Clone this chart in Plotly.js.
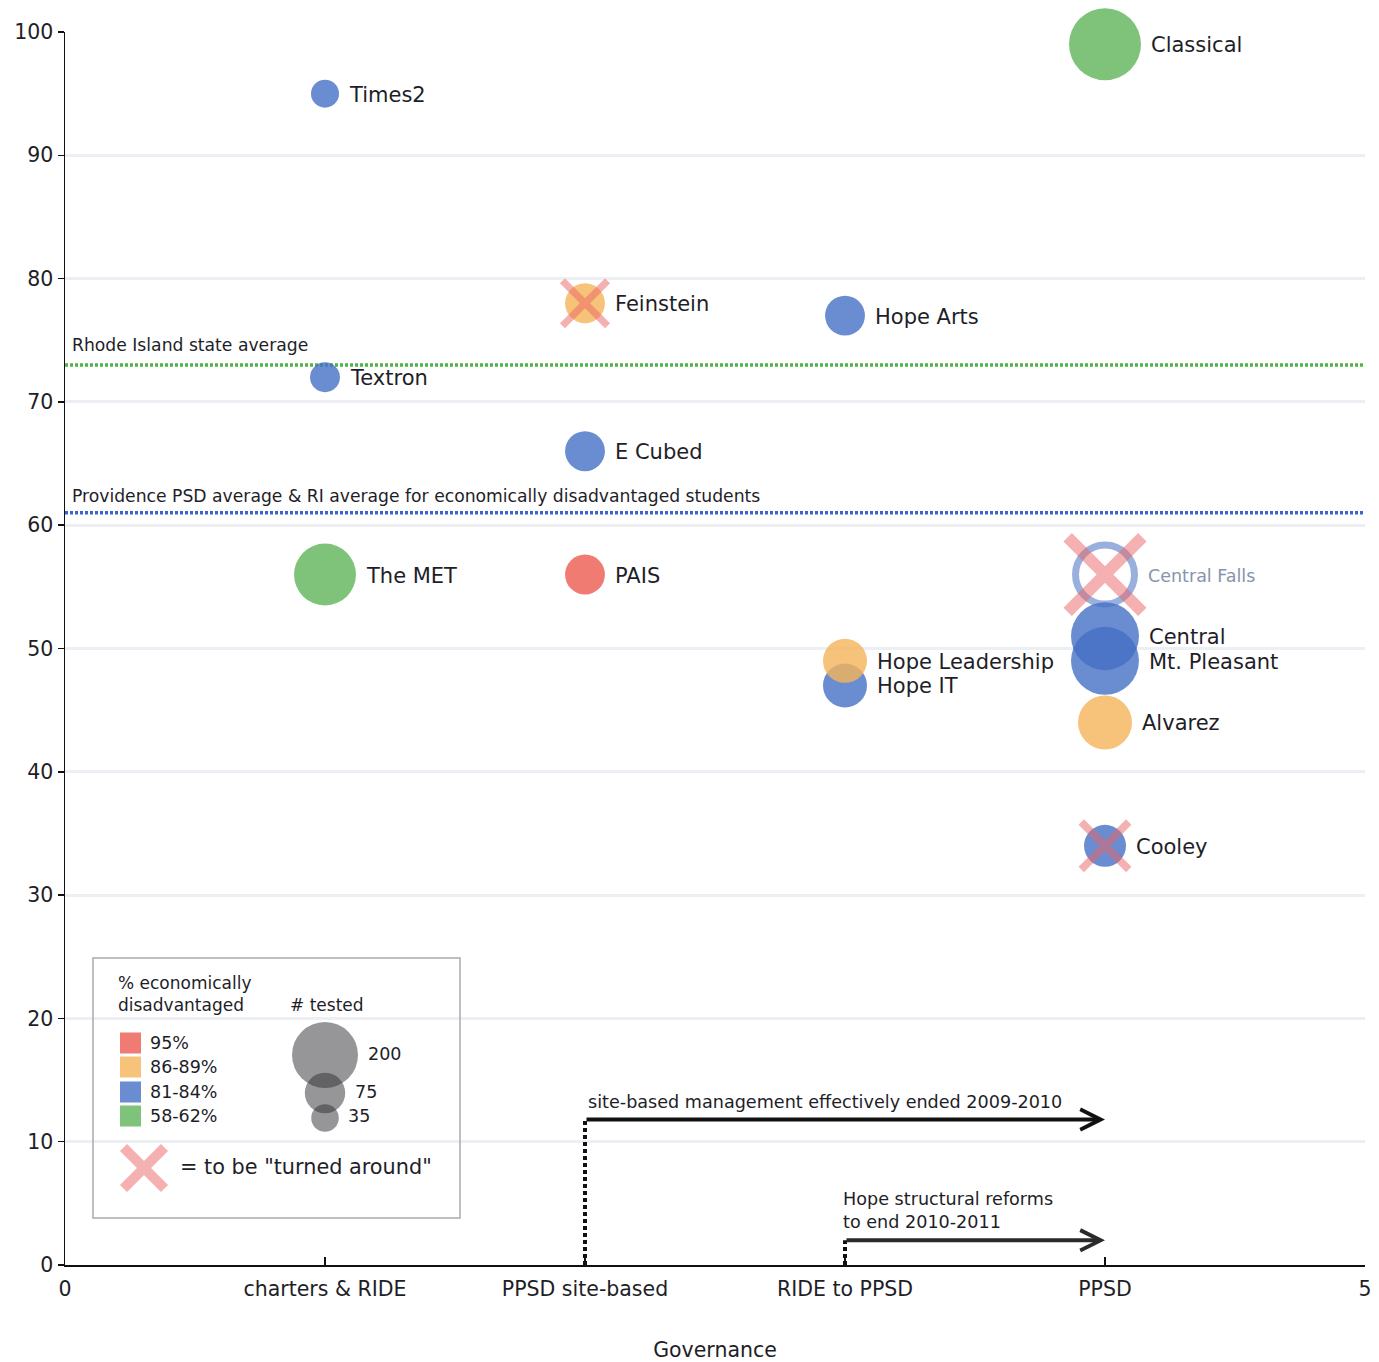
<!DOCTYPE html>
<html><head><meta charset="utf-8">
<script src="https://cdn.plot.ly/plotly-3.0.1.min.js"></script>
<style>html,body{margin:0;padding:0;background:#fff;} #chart{width:1379px;height:1362px;}</style>
</head><body><div id="chart"></div>
<script>
// ---------------- DATA ----------------
const schools = ["Times2","Textron","The MET","Feinstein","E Cubed","PAIS","Hope Arts","Hope IT","Hope Leadership","Classical","Central Falls","Central","Mt. Pleasant","Alvarez","Cooley"];
const governance = [1,1,1,2,2,2,3,3,3,4,4,4,4,4,4];
const proficiency = [95,72,56,78,66,56,77,47,49,99,56,51,49,44,34];
const disadvantaged = ["81-84%","81-84%","58-62%","86-89%","81-84%","95%","81-84%","81-84%","86-89%","58-62%","81-84%","81-84%","81-84%","86-89%","81-84%"];
const tested = [36,41,176,73,73,73,73,89,89,238,200,212,212,134,81];
const turnedAround = [false,false,false,true,false,false,false,false,false,false,true,false,false,false,true];
const outsidePPSD = [false,false,false,false,false,false,false,false,false,false,true,false,false,false,false];

const governanceTicks = [0,1,2,3,4,5];
const governanceLabels = ["0","charters & RIDE","PPSD site-based","RIDE to PPSD","PPSD","5"];

const refLineNames = ["Rhode Island state average","Providence PSD average & RI average for economically disadvantaged students"];
const refLineValues = [73, 61];

const reformNotes = ["site-based management effectively ended 2009-2010","Hope structural reforms<br>to end 2010-2011"];
const reformStart = [2, 3];
const reformEnd = [4, 4];
const reformLevel = [11.8, 2];

const categoryNames = ["95%","86-89%","81-84%","58-62%"];
const legendSizes = [200, 75, 35];

// ---------------- STYLE ----------------
const FONT = "DejaVu Sans, Lucida Grande, sans-serif";
const TXT = "#1e1e28";
const catColor = {"95%":"rgba(235,90,80,0.8)","86-89%":"rgba(245,180,90,0.8)","81-84%":"rgba(69,111,196,0.8)","58-62%":"rgba(95,180,90,0.8)"};
const PINK = "rgba(235,100,100,0.5)";
const BASE_REF = 200/(66*66);       // 200 tested -> 66 px bubble
const SIZEREF = 2*BASE_REF;          // plotly area-mode scaling
const RING_REF = 2*200/(59*59);
const XREF = BASE_REF/0.64;

const W = 1379, H = 1362;
const M = {l:65, r:14, t:32, b:97};
const xRange = [0,5], yRange = [0,100];
const plotW = W - M.l - M.r, plotH = H - M.t - M.b;
const pxToX = px => xRange[0] + (px - M.l)/plotW*(xRange[1]-xRange[0]);
const pyToY = py => yRange[0] + (M.t + plotH - py)/plotH*(yRange[1]-yRange[0]);

const idx = schools.map((s,i)=>i);
const filled = idx.filter(i=>!outsidePPSD[i]);
const ring = idx.filter(i=>outsidePPSD[i]);
const xs = idx.filter(i=>turnedAround[i]);
const pick = (arr, ids) => ids.map(i=>arr[i]);
const diam = n => Math.sqrt(n/BASE_REF);

const traces = [
  { // filled bubbles
    type:'scatter', mode:'markers', cliponaxis:false, hoverinfo:'text',
    x: pick(governance, filled), y: pick(proficiency, filled), text: pick(schools, filled),
    marker:{symbol:'circle', opacity:1, size: pick(tested, filled), sizemode:'area', sizeref:SIZEREF,
      color: pick(disadvantaged, filled).map(c=>catColor[c]), line:{width:0}}
  },
  { // outline bubble (outside PPSD)
    type:'scatter', mode:'markers', cliponaxis:false, hoverinfo:'text',
    x: pick(governance, ring), y: pick(proficiency, ring), text: pick(schools, ring),
    marker:{symbol:'circle-open', opacity:1, size: pick(tested, ring), sizemode:'area', sizeref:RING_REF,
      color: 'rgba(69,111,196,0.55)', line:{width:7}}
  },
  { // turn-around crosses
    type:'scatter', mode:'markers', cliponaxis:false, hoverinfo:'skip',
    x: pick(governance, xs), y: pick(proficiency, xs),
    marker:{symbol:'x-thin-open', opacity:1, size: pick(tested, xs), sizemode:'area', sizeref:XREF,
      color: PINK, line:{width: pick(tested, xs).map(n=>0.18*diam(n))}}
  },
  { // legend size bubbles
    type:'scatter', mode:'markers', cliponaxis:false, hoverinfo:'skip',
    x: legendSizes.map(()=>pxToX(325)), y: [1055,1093,1118].map(pyToY),
    marker:{symbol:'circle', opacity:1, size: legendSizes, sizemode:'area', sizeref:SIZEREF, color:'rgba(45,45,50,0.5)', line:{width:0}}
  },
  { // legend cross
    type:'scatter', mode:'markers', cliponaxis:false, hoverinfo:'skip',
    x:[pxToX(144)], y:[pyToY(1168)],
    marker:{symbol:'x-thin-open', opacity:1, size:41, color:PINK, line:{width:10}}
  }
];

const shapes = [];
const annotations = [];

// school labels, to the right of each bubble
idx.forEach(i=>{
  annotations.push({xref:'x', yref:'y', x:governance[i], y:proficiency[i], xanchor:'left', yanchor:'middle',
    xshift: diam(tested[i])/2 + 8, yshift:-1, showarrow:false, text:schools[i],
    font: outsidePPSD[i] ? {family:FONT, size:17.5, color:'rgb(135,148,172)'} : {family:FONT, size:21, color:TXT}});
});

// reference lines
const refColors = ['rgb(80,180,70)','rgb(60,100,205)'];
const refShift = [8,5];
refLineValues.forEach((v,k)=>{
  shapes.push({type:'line', xref:'x', yref:'y', x0:xRange[0], x1:xRange[1], y0:v, y1:v, layer:'between',
    line:{color:refColors[k], width:3.5, dash:'3px,2px'}});
  annotations.push({xref:'x', yref:'y', x:xRange[0], y:v, xanchor:'left', yanchor:'bottom', xshift:5, yshift:refShift[k],
    text:refLineNames[k], showarrow:false, font:{family:FONT, size:17.2, color:TXT}});
});

// reform arrows
reformNotes.forEach((t,k)=>{
  shapes.push({type:'line', xref:'x', yref:'y', x0:reformStart[k], x1:reformStart[k], y0:0, y1:reformLevel[k], layer:'above',
    line:{color:'#111', width:4, dash:'4px,3px'}});
  annotations.push({xref:'x', yref:'y', axref:'x', ayref:'y', x:reformEnd[k], y:reformLevel[k], ax:reformStart[k], ay:reformLevel[k],
    text:'', showarrow:true, arrowhead:5, arrowsize:1, arrowwidth:4, arrowcolor: k===0 ? '#111' : '#2a2a2a', standoff:0});
  annotations.push({xref:'x', yref:'y', x:reformStart[k], y:reformLevel[k], xanchor:'left', yanchor:'bottom',
    xshift: k===0 ? 1 : -4, yshift:6, align:'left', text:t, showarrow:false, font:{family:FONT, size:17.6, color:TXT}});
});

// legend box
const L = (px)=>pxToX(px), Y = (py)=>pyToY(py);
shapes.push({type:'rect', xref:'x', yref:'y', x0:L(93), x1:L(460), y0:Y(958), y1:Y(1218), layer:'above',
  line:{color:'#ababab', width:1.5}, fillcolor:'rgba(0,0,0,0)'});
annotations.push({xref:'x', yref:'y', x:L(116), y:Y(994), xanchor:'left', yanchor:'middle', align:'left', showarrow:false,
  text:'% economically<br>disadvantaged', font:{family:FONT, size:17, color:TXT}});
annotations.push({xref:'x', yref:'y', x:L(288), y:Y(1005), xanchor:'left', yanchor:'middle', showarrow:false,
  text:'# tested', font:{family:FONT, size:17, color:TXT}});
const swatchY = [1043,1067,1092,1116];
categoryNames.forEach((c,k)=>{
  shapes.push({type:'rect', xref:'x', yref:'y', x0:L(120), x1:L(141), y0:Y(swatchY[k]-10.5), y1:Y(swatchY[k]+10.5), layer:'above',
    line:{width:0}, fillcolor:catColor[c]});
  annotations.push({xref:'x', yref:'y', x:L(148), y:Y(swatchY[k]), xanchor:'left', yanchor:'middle', showarrow:false,
    text:c, font:{family:FONT, size:17.5, color:TXT}});
});
const sizeLabelPos = [[366,1054],[353,1092],[346,1116]];
legendSizes.forEach((s,k)=>{
  annotations.push({xref:'x', yref:'y', x:L(sizeLabelPos[k][0]), y:Y(sizeLabelPos[k][1]), xanchor:'left', yanchor:'middle', showarrow:false,
    text:String(s), font:{family:FONT, size:17.5, color:TXT}});
});
annotations.push({xref:'x', yref:'y', x:L(178), y:Y(1167), xanchor:'left', yanchor:'middle', showarrow:false,
  text:'= to be "turned around"', font:{family:FONT, size:20.8, color:TXT}});

const layout = {
  width:W, height:H, margin:M, paper_bgcolor:'#fff', plot_bgcolor:'#fff', showlegend:false,
  font:{family:FONT, color:TXT},
  xaxis:{range:xRange, tickvals:governanceTicks, ticktext:governanceLabels, showgrid:false, zeroline:false,
    showline:true, linecolor:'#111', linewidth:1.5, ticks:'inside', ticklen:8, tickwidth:1.5, tickcolor:'#111',
    ticklabelstandoff:5,
    tickfont:{family:FONT, size:20.5, color:TXT}, fixedrange:true,
    title:{text:'Governance', font:{family:FONT, size:20.5, color:TXT}, standoff:43}},
  yaxis:{range:yRange, dtick:10, tick0:0, showgrid:true, gridcolor:'rgb(236,239,243)', gridwidth:3, zeroline:false,
    showline:true, linecolor:'#111', linewidth:1.5, ticks:'outside', ticklen:6, tickwidth:1.5, tickcolor:'#111',
    tickfont:{family:FONT, size:20.5, color:TXT}, fixedrange:true},
  shapes:shapes, annotations:annotations
};

Plotly.newPlot('chart', traces, layout, {displayModeBar:false, staticPlot:true});
</script></body></html>
